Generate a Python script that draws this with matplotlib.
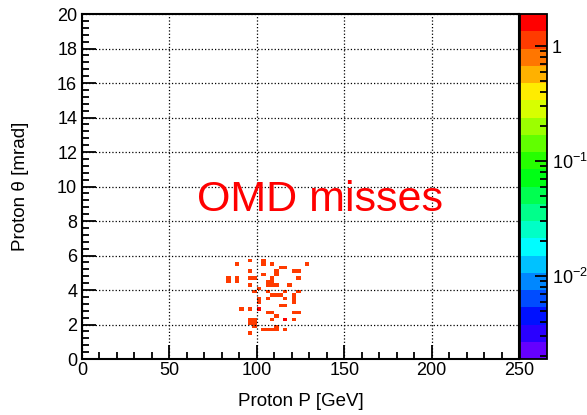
import matplotlib
matplotlib.use("Agg")
import matplotlib.pyplot as plt
from matplotlib.colors import LogNorm, ListedColormap, hsv_to_rgb
from matplotlib.ticker import MultipleLocator, LogLocator, FixedLocator, FixedFormatter
import numpy as np

plt.rcParams['font.family'] = ['Liberation Sans', 'DejaVu Sans']

# proton momentum [GeV] / polar angle [mrad] of the missed protons (one entry each)
proton_p = [88.5, 95.8, 102.7, 102.7, 107.8, 113.5, 116.0, 127.9,
            95.8, 102.9, 110.4, 110.4, 120.5, 123.0,
            83.2, 83.2, 89.2, 89.2, 96.2, 98.8, 108.7, 123.0,
            95.8, 105.5, 108.0, 110.5, 105.5, 108.0, 117.8, 100.7,
            98.5, 106.0, 109.0, 111.5, 114.0, 115.6, 115.6, 121.5, 124.5,
            101.8, 101.8, 107.0, 120.7, 120.7, 113.0, 115.5,
            91.0, 95.8, 100.7, 100.7, 105.5, 108.0, 120.5, 120.5, 124.5, 110.7,
            108.4, 115.6, 115.6, 96.2, 98.8, 96.2, 98.8, 99.5, 110.5,
            104.0, 106.5, 109.0, 111.5, 95.8, 115.5]
proton_theta = [5.5, 5.65, 5.65, 5.4, 5.5, 5.35, 5.35, 5.5,
                5.1, 4.9, 5.1, 4.9, 5.1, 5.1,
                4.5, 4.7, 4.5, 4.7, 4.7, 4.7, 4.7, 4.7,
                4.3, 4.3, 4.3, 4.3, 4.5, 4.5, 4.3, 4.1,
                3.9, 3.9, 3.7, 3.7, 3.7, 3.5, 3.9, 3.7, 3.9,
                3.3, 3.5, 3.5, 3.3, 3.5, 3.1, 3.1,
                2.85, 2.85, 2.85, 2.85, 2.7, 2.7, 2.4, 2.6, 2.6, 2.5,
                2.3, 2.3, 2.3, 2.1, 2.1, 2.3, 2.3, 1.9, 1.9,
                1.7, 1.7, 1.7, 1.7, 1.5, 1.7]

p_edges = np.linspace(0, 250, 101)
theta_edges = np.linspace(0, 20, 101)

counts, _, _ = np.histogram2d(proton_p, proton_theta, bins=[p_edges, theta_edges])
counts = np.ma.masked_equal(counts.T, 0)

# ROOT-like rainbow palette with 20 contour levels
hues = np.linspace(0.733, 0.0, 20)
colors = hsv_to_rgb(np.column_stack([hues, np.ones(20), np.ones(20)]))
cmap = ListedColormap(colors)
norm = LogNorm(vmin=0.0019, vmax=1.9)

fig = plt.figure(figsize=(5.87, 4.15), dpi=100)
ax = fig.add_axes([0.1397, 0.1349, 0.7445, 0.8313])
cax = fig.add_axes([0.8859, 0.1349, 0.046, 0.8313])

mesh = ax.pcolormesh(p_edges, theta_edges, counts, cmap=cmap, norm=norm)

ax.set_xlim(0, 250)
ax.set_ylim(0, 20)
ax.xaxis.set_major_locator(MultipleLocator(50))
ax.xaxis.set_minor_locator(MultipleLocator(10))
ax.yaxis.set_major_locator(MultipleLocator(2))
ax.yaxis.set_minor_locator(MultipleLocator(0.4))
ax.tick_params(which='both', direction='in', labelsize=13, width=1.3)
ax.tick_params(which='major', length=10)
ax.tick_params(which='minor', length=5)
ax.tick_params(axis='x', pad=2)
ax.grid(True, which='major', color='black', linestyle=':', linewidth=0.9)
for s in ax.spines.values():
    s.set_linewidth(1.5)

ax.set_xlabel('Proton P [GeV]', fontsize=13.5, labelpad=10)
ax.set_ylabel('Proton θ [mrad]', fontsize=13.5, labelpad=20)

ax.text(66, 8.6, 'OMD misses', color='red', fontsize=31)

cb = fig.colorbar(mesh, cax=cax)
cb.outline.set_linewidth(1.3)
cax.yaxis.set_major_locator(FixedLocator([0.01, 0.1, 1]))
cax.yaxis.set_major_formatter(FixedFormatter([r'$\mathregular{10^{-2}}$',
                                              r'$\mathregular{10^{-1}}$', '1']))
cax.yaxis.set_minor_locator(LogLocator(base=10, subs=np.arange(2, 10)))
cax.yaxis.set_minor_formatter(FixedFormatter([]))
cax.tick_params(which='both', direction='in', labelsize=13, width=1.3)
cax.tick_params(which='major', length=9)
cax.tick_params(which='minor', length=5)

fig.savefig('out.png', dpi=100)
